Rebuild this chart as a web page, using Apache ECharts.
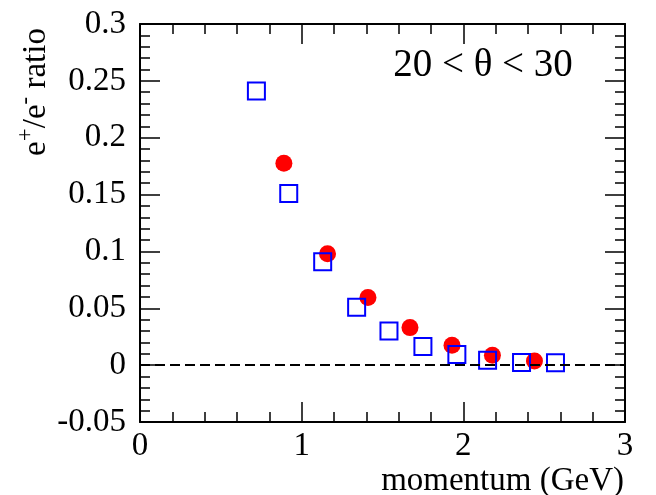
<!DOCTYPE html>
<html>
<head>
<meta charset="utf-8">
<script src="https://cdn.jsdelivr.net/npm/echarts@6/dist/echarts.min.js"></script>
<style>
html, body { margin: 0; padding: 0; background: #fff; }
#main { width: 656px; height: 495px; }
</style>
</head>
<body>
<div id="main"></div>
<script>
// 红色实心圆点 (momentum, ratio)
var redX = [0.89, 1.16, 1.41, 1.67, 1.93, 2.18, 2.44];
var redY = [0.1775, 0.098, 0.0595, 0.033, 0.0175, 0.0087, 0.0037];
// 蓝色空心方块
var blueX = [0.72, 0.92, 1.13, 1.34, 1.54, 1.75, 1.96, 2.15, 2.36, 2.57];
var blueY = [0.241, 0.151, 0.091, 0.051, 0.030, 0.0164, 0.0093, 0.0043, 0.0023, 0.002];
var xTitle = "momentum (GeV)";
var rangeText = "20 < θ < 30";

var FONT = "Liberation Serif";
var chart = echarts.init(document.getElementById('main'));

function pairs(xs, ys){
	var out = [];
	for(var i = 0; i < xs.length; i ++){
		out.push([xs[i], ys[i]]);
	}
	return out;
}

function makeX(pos, labels){
	return {
		type : "value",
		position : pos,
		min : 0, max : 3, interval : 1,
		axisLine : { show : true, onZero : false, lineStyle : { color : "#000", width : 2 } },
		axisTick : { show : true, inside : true, length : 20, lineStyle : { color : "#000", width : 1.5 } },
		minorTick : { show : true, splitNumber : 5, length : 10, lineStyle : { color : "#000", width : 1.5 } },
		splitLine : { show : false },
		axisLabel : { show : labels, color : "#000", fontFamily : FONT, fontSize : 33, margin : 8 }
	};
}

function makeY(pos, labels){
	return {
		type : "value",
		position : pos,
		min : -0.05, max : 0.3, interval : 0.05,
		axisLine : { show : true, onZero : false, lineStyle : { color : "#000", width : 2 } },
		axisTick : { show : true, inside : true, length : 20, lineStyle : { color : "#000", width : 1.5 } },
		minorTick : { show : true, splitNumber : 5, length : 10, lineStyle : { color : "#000", width : 1.5 } },
		splitLine : { show : false },
		axisLabel : { show : labels, color : "#000", fontFamily : FONT, fontSize : 33, margin : 14 }
	};
}

var option = {
	animation : false,
	grid : { left : 140, right : 31, top : 24, bottom : 73, containLabel : false, outerBoundsMode : "none" },
	xAxis : [ makeX("bottom", true), makeX("top", false) ],
	yAxis : [ makeY("left", true), makeY("right", false) ],
	graphic : [
		{
			type : "text",
			x : 36, y : 92,
			rotation : Math.PI / 2,
			style : {
				text : "{a|e}{s|+}{a|/e}{s|-}{a| ratio}",
				align : "center", verticalAlign : "middle",
				rich : {
					a : { fontFamily : FONT, fontSize : 33, fill : "#000" },
					s : { fontFamily : FONT, fontSize : 23, fill : "#000", padding : [0, 0, 20, 0] }
				}
			}
		},
		{
			type : "text",
			x : 483, y : 66,
			style : {
				text : rangeText,
				align : "center", verticalAlign : "middle",
				fontFamily : FONT, fontSize : 39, fill : "#000"
			}
		},
		{
			type : "text",
			x : 624, y : 481,
			style : {
				text : xTitle,
				align : "right", verticalAlign : "middle",
				fontFamily : FONT, fontSize : 33, fill : "#000"
			}
		}
	],
	series : [
		{
			type : "scatter",
			data : pairs(redX, redY),
			symbol : "circle",
			symbolSize : 17,
			itemStyle : { color : "#ff0000", opacity : 1 },
			markLine : {
				silent : true,
				symbol : "none",
				label : { show : false },
				lineStyle : { color : "#000", type : [10, 5], width : 2, opacity : 1 },
				data : [ { yAxis : 0 } ]
			}
		},
		{
			type : "scatter",
			data : pairs(blueX, blueY),
			symbol : "rect",
			symbolSize : 17,
			itemStyle : { color : "rgba(0,0,0,0)", borderColor : "#0000ff", borderWidth : 2, opacity : 1 }
		}
	]
};
chart.setOption(option);
</script>
</body>
</html>
